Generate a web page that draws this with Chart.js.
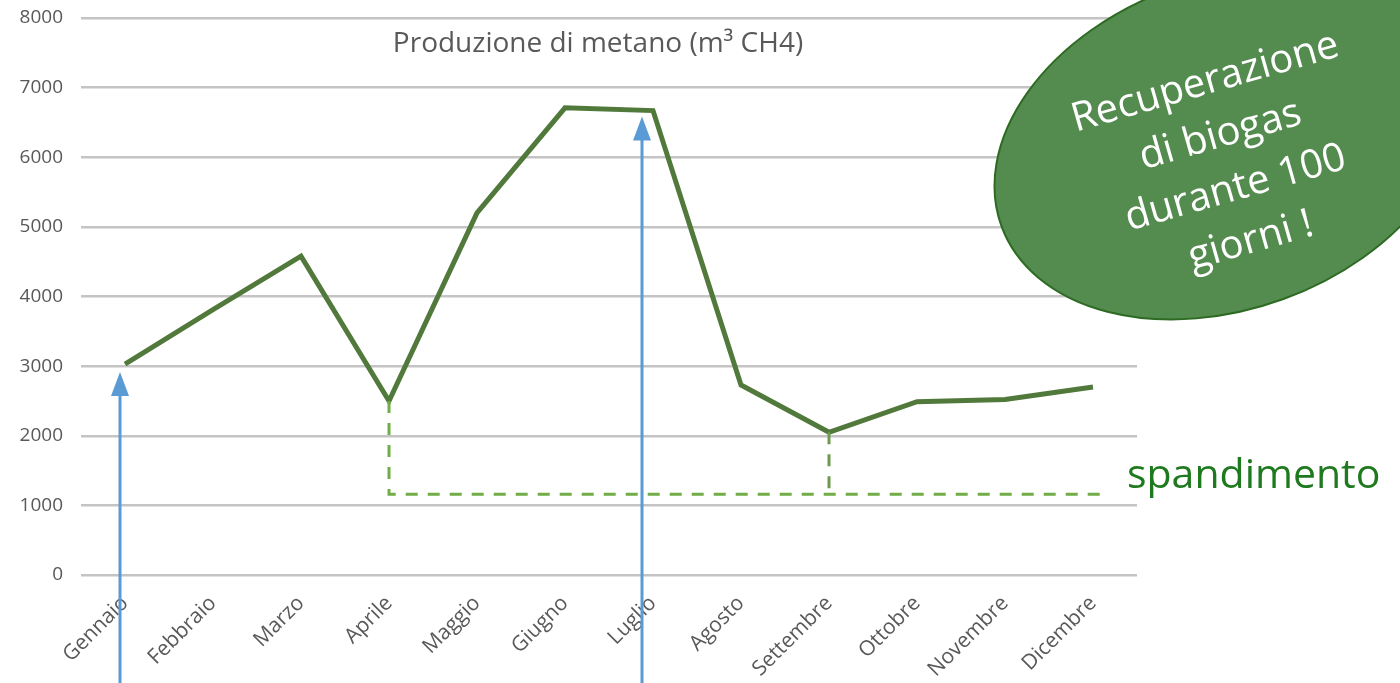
<!DOCTYPE html>
<html>
<head>
<meta charset="utf-8">
<script src="https://cdn.jsdelivr.net/npm/chart.js@4.4.1/dist/chart.umd.min.js"></script>
<style>
    html, body { margin: 0; padding: 0; background: #ffffff; }
    #wrap { width: 1400px; height: 683px; position: relative; }
</style>
</head>
<body>
<div id="wrap"><canvas id="metano-chart" width="1400" height="683"></canvas></div>
<script>
// dati
const mesi = ['Gennaio', 'Febbraio', 'Marzo', 'Aprile', 'Maggio', 'Giugno',
    'Luglio', 'Agosto', 'Settembre', 'Ottobre', 'Novembre', 'Dicembre'];
const metano = [3030, 3810, 4580, 2500, 5200, 6710, 6670, 2730, 2050, 2490, 2520, 2700];
const yTicks = [0, 1000, 2000, 3000, 4000, 5000, 6000, 7000, 8000];

// annotazioni
const frecce = [0, 6];             // indici dei mesi con freccia blu
const spandimentoDa = 3;           // Aprile
const spandimentoA = 8;            // Settembre
const spandimentoLivello = 1160;
const titolo = 'Produzione di metano (m\u00B3 CH4)';
const bollaTesto = ['Recuperazione', 'di biogas', 'durante 100', 'giorni !'];

const grigio = '#595959';
const verdeLinea = '#52793c';
const verdeTratto = '#70ad47';
const blu = '#5b9bd5';

// disegno annotazioni sopra il grafico
const annotazioni = {
    id: 'annotazioni',
    afterDraw(chart) {
        const ctx = chart.ctx;
        const x = chart.scales.x;
        const y = chart.scales.y;

        // titolo dentro l'area
        ctx.save();
        ctx.fillStyle = grigio;
        ctx.font = '28px "Open Sans", sans-serif';
        ctx.textAlign = 'center';
        ctx.textBaseline = 'middle';
        ctx.fillText(titolo, 598, 44);
        ctx.restore();

        // tratteggio spandimento
        const xa = x.getPixelForValue(spandimentoDa);
        const xs = x.getPixelForValue(spandimentoA);
        const yl = y.getPixelForValue(spandimentoLivello);
        ctx.save();
        ctx.strokeStyle = verdeTratto;
        ctx.lineWidth = 3;
        ctx.setLineDash([12, 10]);
        ctx.beginPath();
        ctx.moveTo(xa, y.getPixelForValue(metano[spandimentoDa]));
        ctx.lineTo(xa, yl);
        ctx.lineTo(1105, yl);
        ctx.stroke();
        ctx.strokeStyle = '#6d9a4f';
        ctx.beginPath();
        ctx.moveTo(xs, y.getPixelForValue(metano[spandimentoA]));
        ctx.lineTo(xs, yl);
        ctx.stroke();
        ctx.restore();

        ctx.save();
        ctx.fillStyle = '#1f7a1f';
        ctx.font = '41px "Open Sans", sans-serif';
        ctx.textAlign = 'left';
        ctx.textBaseline = 'middle';
        ctx.fillText('spandimento', 1127, 476);
        ctx.restore();

        // frecce blu
        frecce.forEach((i, k) => {
            const px = x.getPixelForValue(i) - (k === 0 ? 5 : 11);
            const tip = y.getPixelForValue(metano[i]) + (k === 0 ? 8 : 6);
            ctx.save();
            ctx.strokeStyle = blu;
            ctx.fillStyle = blu;
            ctx.lineWidth = 3;
            ctx.beginPath();
            ctx.moveTo(px, chart.height);
            ctx.lineTo(px, tip + 20);
            ctx.stroke();
            ctx.beginPath();
            ctx.moveTo(px, tip);
            ctx.lineTo(px - 9, tip + 24);
            ctx.lineTo(px + 9, tip + 24);
            ctx.closePath();
            ctx.fill();
            ctx.restore();
        });

        // bolla verde
        ctx.save();
        ctx.translate(1227, 144);
        ctx.rotate(-20 * Math.PI / 180);
        ctx.beginPath();
        ctx.ellipse(0, 0, 240, 165, 0, 0, Math.PI * 2);
        ctx.fillStyle = '#548b4f';
        ctx.fill();
        ctx.lineWidth = 2;
        ctx.strokeStyle = '#2e6b22';
        ctx.stroke();
        ctx.restore();

        ctx.save();
        ctx.translate(1228, 162);
        ctx.rotate(-16 * Math.PI / 180);
        ctx.fillStyle = '#ffffff';
        ctx.font = '40px "Open Sans", sans-serif';
        ctx.textAlign = 'center';
        ctx.textBaseline = 'middle';
        bollaTesto.forEach((t, i) => {
            ctx.fillText(t, 0, (i - 1.5) * 55);
        });
        ctx.restore();
    }
};

const canvas = document.getElementById('metano-chart');
window.metanoChart = new Chart(canvas, {
    type: 'line',
    data: {
        labels: mesi,
        datasets: [{
            label: 'Metano',
            data: metano,
            borderColor: verdeLinea,
            borderWidth: 5,
            pointRadius: 0,
            tension: 0,
            fill: false
        }]
    },
    options: {
        responsive: false,
        animation: false,
        layout: {
            padding: { top: 18, right: 263, bottom: 0, left: 0 }
        },
        scales: {
            x: {
                offset: true,
                grid: { display: false, drawTicks: false },
                border: { display: false },
                ticks: {
                    color: grigio,
                    font: { family: '"Open Sans", sans-serif', size: 21 },
                    minRotation: 45,
                    maxRotation: 45,
                    padding: 16,
                    autoSkip: false
                },
                afterFit: (s) => {
                    s.height = 108;
                    s.paddingLeft = 0;
                    s.paddingRight = 0;
                }
            },
            y: {
                min: 0,
                max: 8000,
                afterBuildTicks: (s) => { s.ticks = yTicks.map(v => ({ value: v })); },
                grid: { color: '#c4c4c4', lineWidth: 2.5, drawTicks: false },
                border: { display: false },
                ticks: {
                    color: grigio,
                    font: { family: '"Open Sans", sans-serif', size: 19 },
                    padding: 18,
                    callback: (v) => String(v)
                },
                afterFit: (s) => {
                    s.width = 81;
                    s.paddingTop = 0;
                    s.paddingBottom = 0;
                }
            }
        },
        plugins: {
            legend: { display: false },
            title: { display: false },
            tooltip: { enabled: false }
        }
    },
    plugins: [annotazioni]
});
</script>
</body>
</html>
